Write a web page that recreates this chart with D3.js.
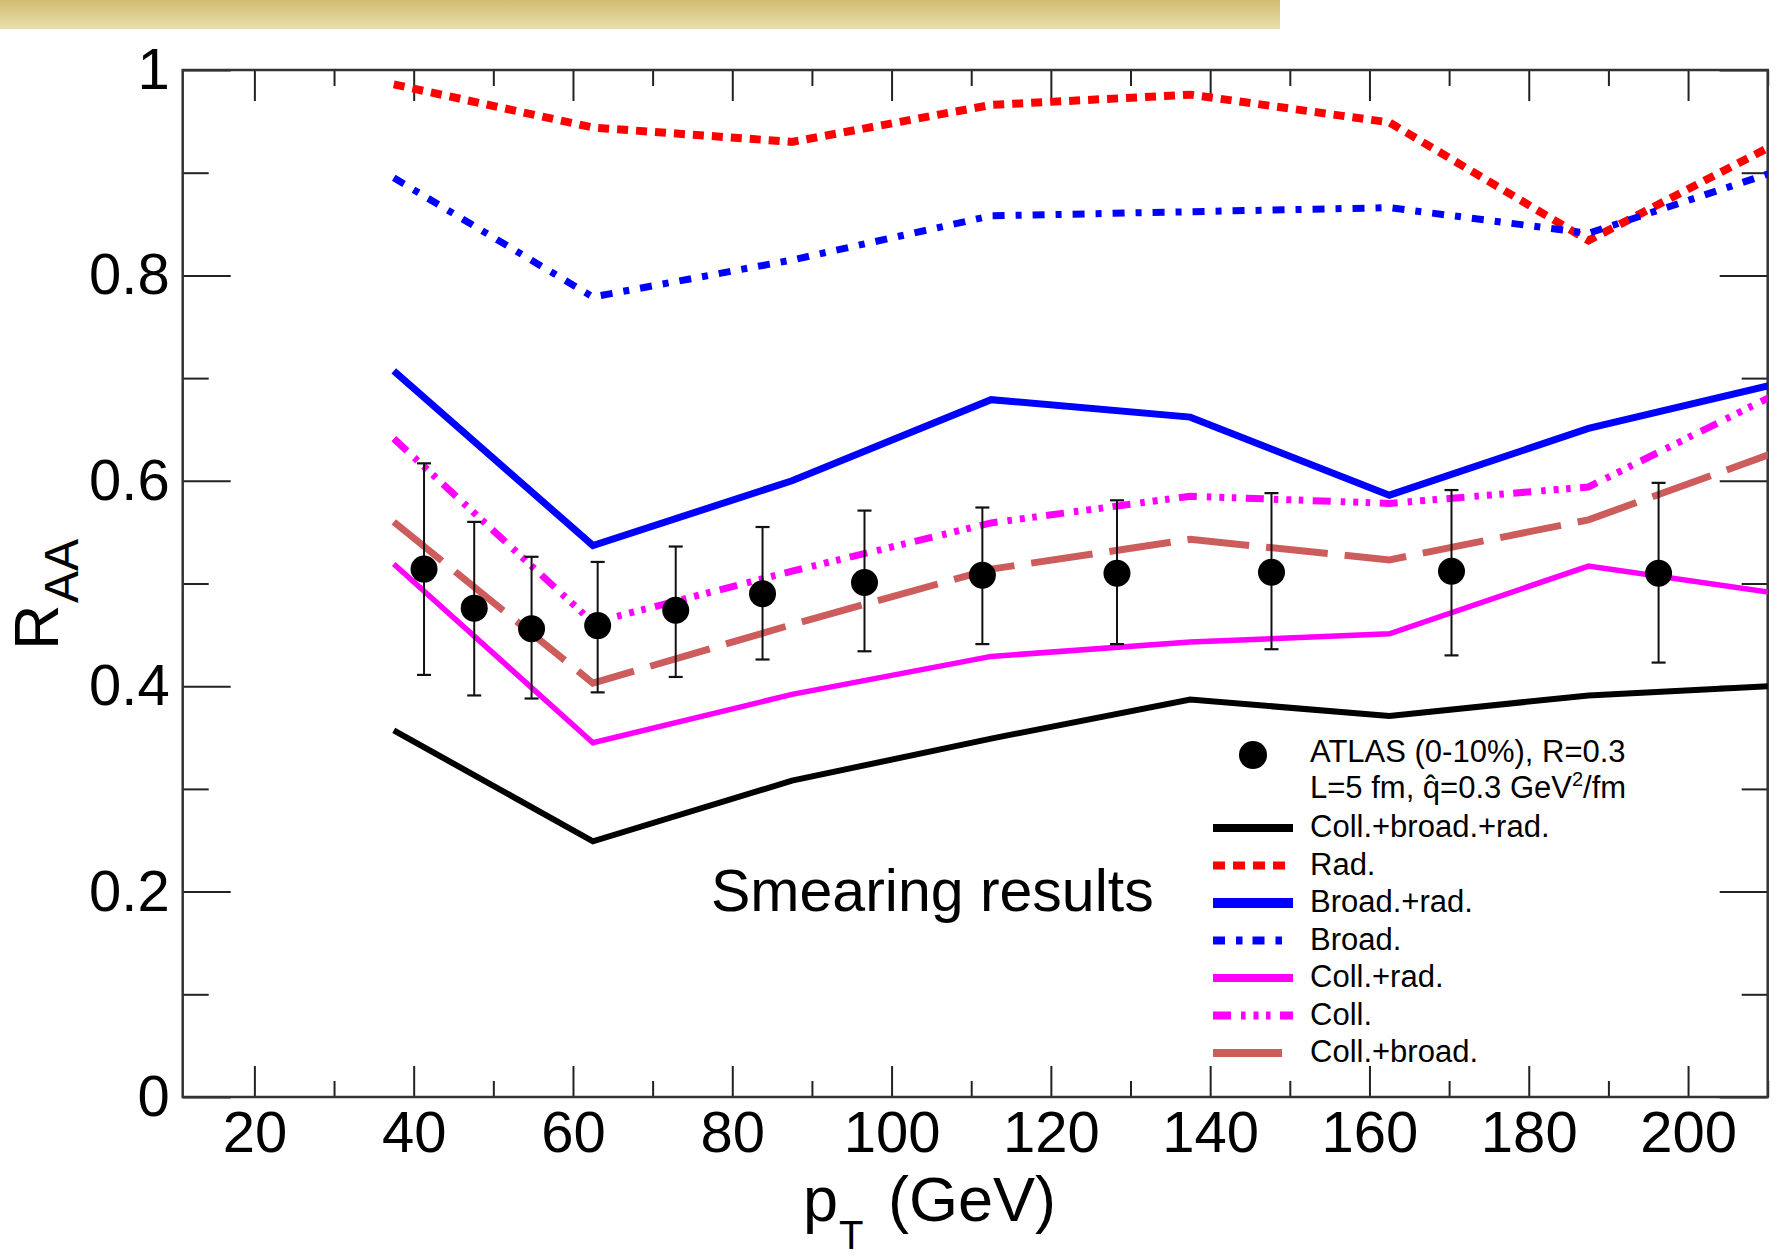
<!DOCTYPE html>
<html>
<head>
<meta charset="utf-8">
<script src="https://cdn.jsdelivr.net/npm/d3@7"></script>
<style>
  html, body { margin: 0; padding: 0; background: #ffffff; }
  svg { display: block; }
  text { font-family: "Liberation Sans", Arial, Helvetica, sans-serif; fill: #000; }
</style>
</head>
<body>
<svg id="chart" width="1779" height="1259"></svg>
<script>
// ---------------- data ----------------
const binCenters = [37.5, 62.5, 87.5, 112.5, 137.5, 162.5, 187.5, 212.5];

const collBroadRad = [0.357, 0.249, 0.308, 0.349, 0.387, 0.371, 0.391, 0.401]; // black solid
const radOnly      = [0.986, 0.944, 0.930, 0.966, 0.976, 0.949, 0.834, 0.934]; // red dotted
const broadRad     = [0.707, 0.537, 0.600, 0.679, 0.662, 0.586, 0.651, 0.697]; // blue solid
const broadOnly    = [0.895, 0.779, 0.815, 0.858, 0.862, 0.866, 0.841, 0.905]; // blue dash-dot
const collRad      = [0.519, 0.345, 0.392, 0.429, 0.443, 0.451, 0.517, 0.489]; // magenta solid
const collOnly     = [0.641, 0.462, 0.512, 0.559, 0.585, 0.578, 0.594, 0.690]; // magenta dash-dot-dot
const collBroad    = [0.560, 0.403, 0.460, 0.514, 0.543, 0.523, 0.562, 0.632]; // brown dashed

const atlasPt    = [41.3, 47.6, 54.8, 63.1, 72.9, 83.8, 96.6, 111.4, 128.3, 147.7, 170.3, 196.3];
const atlasRaa   = [0.514, 0.476, 0.456, 0.459, 0.474, 0.490, 0.501, 0.508, 0.510, 0.511, 0.512, 0.510];
const atlasUpper = [0.617, 0.560, 0.526, 0.521, 0.536, 0.555, 0.571, 0.574, 0.581, 0.588, 0.591, 0.598];
const atlasLower = [0.411, 0.391, 0.388, 0.394, 0.409, 0.426, 0.434, 0.441, 0.441, 0.436, 0.430, 0.423];

const xMajorTicks = [20, 40, 60, 80, 100, 120, 140, 160, 180, 200];
const xMinorTicks = [30, 50, 70, 90, 110, 130, 150, 170, 190, 210];
const yMajorTicks = [0, 0.2, 0.4, 0.6, 0.8, 1];
const yMinorTicks = [0.1, 0.3, 0.5, 0.7, 0.9];
const yTickLabels = ["0", "0.2", "0.4", "0.6", "0.8", "1"];

const seriesNames = ["Coll.+broad.+rad.", "Rad.", "Broad.+rad.", "Broad.", "Coll.+rad.", "Coll.", "Coll.+broad."];
const seriesValues = [collBroadRad, radOnly, broadRad, broadOnly, collRad, collOnly, collBroad];
const seriesColors = ["#000000", "#ff0000", "#0000ff", "#0000ff", "#ff00ff", "#ff00ff", "#cd5c5c"];
const seriesDash   = [null, "11 8", null, "12 11 6 11", null, "18 10 4.5 8 5 7.5 4.5 9.5", "62 17"];
const seriesWidth  = [6, 8, 7, 7, 5.5, 7, 7];
const legendDash   = [null, "12 8", null, "12 11 6.5 10", null, "18 10 4.5 8 5 7.5 4.5 9.5", null];
const legendLen    = [80, 72, 80, 69, 80, 80, 69];

const dataLabel = "ATLAS (0-10%), R=0.3";
const annotation = "Smearing results";

// ---------------- layout ----------------
const svg = d3.select("#chart");
const L = 182.7, R = 1767.7, T = 70, B = 1097;

const x = d3.scaleLinear().domain([11, 210]).range([L, R]);
const y = d3.scaleLinear().domain([0, 1]).range([B, T]);

// header bar
const defs = svg.append("defs");
const grad = defs.append("linearGradient").attr("id", "gold").attr("x1", 0).attr("y1", 0).attr("x2", 0).attr("y2", 1);
grad.append("stop").attr("offset", "0%").attr("stop-color", "#d2bd70");
grad.append("stop").attr("offset", "100%").attr("stop-color", "#e9dfac");
svg.append("rect").attr("x", 0).attr("y", 0).attr("width", 1280).attr("height", 29).attr("fill", "url(#gold)");

defs.append("clipPath").attr("id", "plotclip")
  .append("rect").attr("x", L).attr("y", T).attr("width", R - L).attr("height", B - T);

// ---------------- axes ----------------
const axisColor = "#222";
function styleAxis(g) {
  g.select(".domain").remove();
  g.selectAll(".tick line").attr("stroke", axisColor).attr("stroke-width", 2);
  g.selectAll("text").style("font-size", "58px").attr("fill", "#000");
}

// bottom major with labels
svg.append("g").attr("transform", `translate(0,${B})`)
  .call(d3.axisBottom(x).tickValues(xMajorTicks).tickSize(-31).tickPadding(14).tickFormat(d3.format("d")))
  .call(styleAxis);
svg.append("g").attr("transform", `translate(0,${B})`)
  .call(d3.axisBottom(x).tickValues(xMinorTicks).tickSize(-16).tickFormat(""))
  .call(styleAxis);
// top
svg.append("g").attr("transform", `translate(0,${T})`)
  .call(d3.axisTop(x).tickValues(xMajorTicks).tickSize(-31).tickFormat(""))
  .call(styleAxis);
svg.append("g").attr("transform", `translate(0,${T})`)
  .call(d3.axisTop(x).tickValues(xMinorTicks).tickSize(-16).tickFormat(""))
  .call(styleAxis);
// left
svg.append("g").attr("transform", `translate(${L},0)`)
  .call(d3.axisLeft(y).tickValues(yMajorTicks).tickSize(-48).tickPadding(13)
        .tickFormat((d, i) => yTickLabels[i]))
  .call(styleAxis);
svg.append("g").attr("transform", `translate(${L},0)`)
  .call(d3.axisLeft(y).tickValues(yMinorTicks).tickSize(-26).tickFormat(""))
  .call(styleAxis);
// right
svg.append("g").attr("transform", `translate(${R},0)`)
  .call(d3.axisRight(y).tickValues(yMajorTicks).tickSize(-48).tickFormat(""))
  .call(styleAxis);
svg.append("g").attr("transform", `translate(${R},0)`)
  .call(d3.axisRight(y).tickValues(yMinorTicks).tickSize(-26).tickFormat(""))
  .call(styleAxis);

// frame
svg.append("rect").attr("x", L).attr("y", T).attr("width", R - L).attr("height", B - T)
  .attr("fill", "none").attr("stroke", "#333").attr("stroke-width", 2.5);

// ---------------- curves ----------------
const line = d3.line().x(d => x(d[0])).y(d => y(d[1]));
const curves = svg.append("g").attr("clip-path", "url(#plotclip)");
seriesValues.forEach((vals, i) => {
  curves.append("path")
    .datum(binCenters.map((c, j) => [c, vals[j]]))
    .attr("d", line)
    .attr("fill", "none")
    .attr("stroke", seriesColors[i])
    .attr("stroke-width", seriesWidth[i])
    .attr("stroke-linejoin", "miter")
    .attr("stroke-linecap", "butt")
    .attr("stroke-dasharray", seriesDash[i]);
});

// ---------------- ATLAS data ----------------
const pts = svg.append("g");
atlasPt.forEach((p, i) => {
  const cx = x(p);
  pts.append("line").attr("x1", cx).attr("x2", cx).attr("y1", y(atlasLower[i])).attr("y2", y(atlasUpper[i]))
    .attr("stroke", "#111").attr("stroke-width", 2);
  [atlasLower[i], atlasUpper[i]].forEach(v => {
    pts.append("line").attr("x1", cx - 7).attr("x2", cx + 7).attr("y1", y(v)).attr("y2", y(v))
      .attr("stroke", "#111").attr("stroke-width", 2.2);
  });
  pts.append("circle").attr("cx", cx).attr("cy", y(atlasRaa[i])).attr("r", 13.5).attr("fill", "#000");
});

// ---------------- titles ----------------
svg.append("text").attr("x", 803).attr("y", 1221).style("font-size", "63px").text("p");
svg.append("text").attr("x", 839).attr("y", 1249).style("font-size", "40px").text("T");
svg.append("text").attr("x", 888).attr("y", 1221).style("font-size", "63px").text("(GeV)");

const yt = svg.append("g").attr("transform", "translate(58,650) rotate(-90)");
yt.append("text").attr("x", 0).attr("y", 0).style("font-size", "63px").text("R");
yt.append("text").attr("x", 47).attr("y", 20).style("font-size", "48px").text("AA");

svg.append("text").attr("x", 711).attr("y", 911).style("font-size", "59px").text(annotation);

// ---------------- legend ----------------
const lg = svg.append("g");
const lgFont = "31px";
lg.append("circle").attr("cx", 1253).attr("cy", 755).attr("r", 14).attr("fill", "#000");
lg.append("text").attr("x", 1310).attr("y", 762).style("font-size", lgFont).text(dataLabel);
const l2 = lg.append("text").attr("x", 1310).attr("y", 798).style("font-size", lgFont);
l2.append("tspan").text("L=5 fm, q\u0302=0.3 GeV");
l2.append("tspan").attr("dy", -12).style("font-size", "20px").text("2");
l2.append("tspan").attr("dy", 12).text("/fm");

seriesNames.forEach((name, i) => {
  const by = 837 + i * 37.5;
  lg.append("line").attr("x1", 1213).attr("x2", 1213 + legendLen[i]).attr("y1", by - 9).attr("y2", by - 9)
    .attr("stroke", seriesColors[i]).attr("stroke-width", i === 2 ? 10 : 8)
    .attr("stroke-dasharray", legendDash[i]);
  lg.append("text").attr("x", 1310).attr("y", by).style("font-size", lgFont).text(name);
});
</script>
</body>
</html>
